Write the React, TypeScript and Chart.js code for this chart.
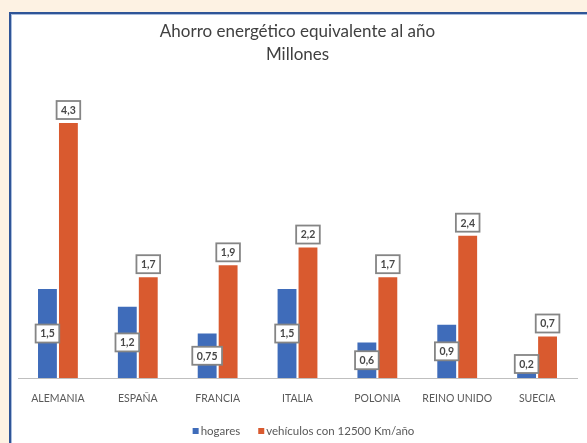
import React, { useEffect, useRef } from 'react';
import { Chart, registerables } from 'chart.js';

Chart.register(...registerables);

const categories = ['ALEMANIA', 'ESPAÑA', 'FRANCIA', 'ITALIA', 'POLONIA', 'REINO UNIDO', 'SUECIA'];
const hogares = [1.5, 1.2, 0.75, 1.5, 0.6, 0.9, 0.2];
const vehiculos = [4.3, 1.7, 1.9, 2.2, 1.7, 2.4, 0.7];
const seriesNames = ['hogares', 'vehículos con 12500 Km/año'];
const titleLines = ['Ahorro energético equivalente al año', 'Millones'];

const BLUE = '#3f6cba';
const ORANGE = '#d95a2f';
const TEXT = '#595959';
const FONT = 'Lato, "Open Sans", sans-serif';

const fmt = (v: number) => String(v).replace('.', ',');

const labelPlugin = {
  id: 'boxLabels',
  afterDatasetsDraw(chart: any) {
    const ctx = chart.ctx as CanvasRenderingContext2D;
    const yScale = chart.scales.y;
    const base = yScale.getPixelForValue(0);
    ctx.save();
    ctx.font = `bold 10.5px ${FONT}`;
    ctx.textAlign = 'center';
    ctx.textBaseline = 'middle';
    chart.data.datasets.forEach((ds: any, di: number) => {
      const meta = chart.getDatasetMeta(di);
      meta.data.forEach((bar: any, i: number) => {
        const txt = fmt(ds.data[i]);
        const w = ctx.measureText(txt).width + 9;
        const h = 18;
        let cy: number;
        if (di === 0) {
          cy = (bar.y + base) / 2;
          cy = Math.min(cy, base - 5 - h / 2);
        } else {
          cy = bar.y - 4 - h / 2;
        }
        const x = bar.x;
        ctx.fillStyle = '#ffffff';
        ctx.fillRect(x - w / 2, cy - h / 2, w, h);
        ctx.strokeStyle = '#858585';
        ctx.lineWidth = 1.8;
        ctx.strokeRect(x - w / 2, cy - h / 2, w, h);
        ctx.fillStyle = '#474747';
        ctx.fillText(txt, x, cy + 0.5);
      });
    });
    ctx.restore();
  },
};

const legendPlugin = {
  id: 'bottomLegend',
  afterDraw(chart: any) {
    const ctx = chart.ctx as CanvasRenderingContext2D;
    const area = chart.chartArea;
    ctx.save();
    ctx.font = `11.5px ${FONT}`;
    ctx.textBaseline = 'middle';
    ctx.textAlign = 'left';
    const box = 6;
    const gapText = 2;
    const gapItem = 18;
    const items = chart.data.datasets.map((ds: any) => ({
      text: ds.label as string,
      color: ds.backgroundColor as string,
      w: ctx.measureText(ds.label).width,
    }));
    const total = items.reduce(
      (s: number, it: any, i: number) => s + box + gapText + it.w + (i > 0 ? gapItem : 0),
      0
    );
    let x = (area.left + area.right) / 2 + 6 - total / 2;
    const y = chart.height - 12;
    items.forEach((it: any, i: number) => {
      if (i > 0) x += gapItem;
      ctx.fillStyle = it.color;
      ctx.fillRect(x, y - box / 2, box, box);
      x += box + gapText;
      ctx.fillStyle = TEXT;
      ctx.fillText(it.text, x, y);
      x += it.w;
    });
    ctx.restore();
  },
};

export default function App() {
  const ref = useRef<HTMLCanvasElement | null>(null);

  useEffect(() => {
    document.body.style.margin = '0';
    if (!ref.current) return;
    const chart = new Chart(ref.current, {
      type: 'bar',
      data: {
        labels: categories,
        datasets: [
          {
            label: seriesNames[0],
            data: hogares,
            backgroundColor: BLUE,
            categoryPercentage: 0.525,
            barPercentage: 0.9,
          },
          {
            label: seriesNames[1],
            data: vehiculos,
            backgroundColor: ORANGE,
            categoryPercentage: 0.525,
            barPercentage: 0.9,
          },
        ],
      },
      options: {
        responsive: false,
        animation: false,
        devicePixelRatio: 1,
        layout: { padding: { left: 18, right: 10, top: 12, bottom: 0 } },
        plugins: {
          title: {
            display: true,
            text: titleLines,
            color: '#404040',
            font: { family: FONT, size: 17, weight: 'normal', lineHeight: '23px' },
            padding: { top: 8, bottom: 15.5 },
          },
          legend: { display: false },
          tooltip: { enabled: false },
        },
        scales: {
          x: {
            grid: { display: false, drawTicks: false },
            border: { display: true, color: '#bfbfbf', width: 1 },
            ticks: {
              color: TEXT,
              padding: 14,
              font: { family: FONT, size: 10.5 },
              maxRotation: 0,
              autoSkip: false,
            },
            afterFit: (scale: any) => {
              scale.height = 65;
            },
          },
          y: {
            display: false,
            min: 0,
            max: 5,
          },
        },
      },
      plugins: [labelPlugin, legendPlugin],
    });
    return () => chart.destroy();
  }, []);

  return (
    <div
      style={{
        position: 'fixed',
        left: 0,
        top: 0,
        width: 587,
        height: 443,
        background: '#fdf2e3',
        overflow: 'hidden',
      }}
    >
      <div
        style={{
          position: 'absolute',
          left: 9,
          top: 12,
          width: 578,
          height: 431,
          background: '#ffffff',
          borderLeft: '2px solid #2f5597',
          borderTop: '2px solid #2f5597',
          boxSizing: 'border-box',
          boxShadow: 'inset 1px 1px 0 #a9bddd',
        }}
      />
      <canvas
        ref={ref}
        width={587}
        height={443}
        style={{ position: 'absolute', left: 0, top: 0, width: 587, height: 443 }}
      />
    </div>
  );
}
